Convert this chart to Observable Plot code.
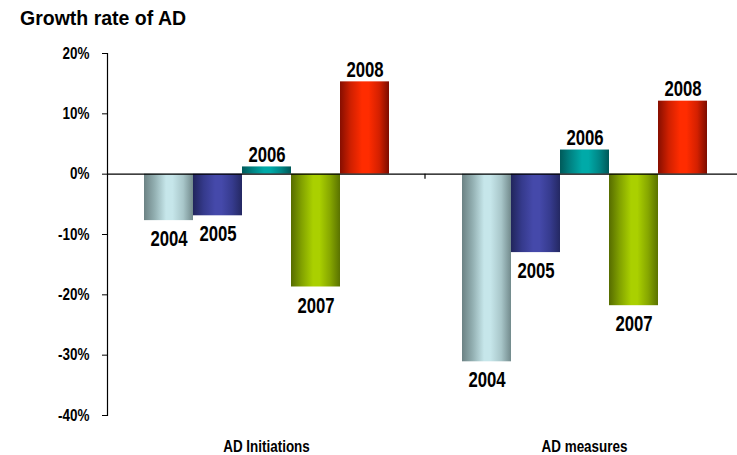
<!DOCTYPE html>
<html>
<head>
<meta charset="utf-8">
<script src="https://cdn.jsdelivr.net/npm/d3@7"></script>
<script src="https://cdn.jsdelivr.net/npm/@observablehq/plot@0.6"></script>
<style>
  html, body { margin: 0; padding: 0; background: #fff; }
  #title { font: bold 19.5px "Liberation Sans", Arial, sans-serif; color: #000; padding: 9px 0 0 20px; height: 29px; line-height: 19px; box-sizing: content-box; }
  svg text { font-family: "Liberation Sans", Arial, sans-serif; font-weight: bold; }
</style>
</head>
<body>
<div id="title">Growth rate of AD</div>
<div id="chart"></div>
<script>
const categories = ["AD Initiations", "AD measures"];
const years = ["2004", "2005", "2006", "2007", "2008"];
const initiations = [-7.7, -6.9, 1.2, -18.7, 15.3];
const measures = [-31.1, -13.0, 4.0, -21.8, 12.1];
const yTicks = [-40, -30, -20, -10, 0, 10, 20];

// cylinder gradient colours per year: [edge, mid, light, mid, edge]
const yearColors = {
  "2004": ["#6c8284", "#93b0b2", "#c6e6ea", "#a8c6c9", "#728a8c"],
  "2005": ["#21255c", "#353a8c", "#4549aa", "#363b8e", "#242862"],
  "2006": ["#005a5a", "#008484", "#00aaa8", "#008686", "#005858"],
  "2007": ["#566c00", "#82a200", "#aad000", "#86a600", "#5a7200"],
  "2008": ["#860e00", "#d02000", "#ff2c00", "#d42000", "#7c0c00"]
};

const seriesByCategory = [initiations, measures];
const rows = categories.flatMap((c, i) =>
  years.map((y, j) => ({category: c, year: y, value: seriesByCategory[i][j]}))
);

const fontFam = '"Liberation Sans", Arial, sans-serif';

const chart = Plot.plot({
  width: 737,
  height: 417,
  marginTop: 15,
  marginBottom: 40,
  marginLeft: 107,
  marginRight: -6,
  style: {fontFamily: fontFam, fontWeight: "bold", color: "#000", background: "#fff"},
  fx: {domain: categories, paddingInner: 0, paddingOuter: 0, label: null},
  x: {domain: years, paddingInner: 0, paddingOuter: 0.73, axis: null},
  y: {domain: [-40, 20], label: null},
  marks: [
    ...years.map(yr => Plot.barY(rows.filter(r => r.year === yr), {
      fx: "category", x: "year", y: "value", fill: `url(#grad-${yr})`
    })),
    Plot.text(rows.filter(r => r.value < 0), {
      fx: "category", x: "year", y: "value", text: "year",
      lineAnchor: "top", dy: 10, fontSize: 22, fontWeight: "bold", fill: "#000"
    }),
    Plot.text(rows.filter(r => r.value >= 0), {
      fx: "category", x: "year", y: "value", text: "year",
      lineAnchor: "bottom", dy: -5, fontSize: 22, fontWeight: "bold", fill: "#000"
    }),
    Plot.ruleY([0], {stroke: "#000", strokeWidth: 1.3}),
    Plot.frame({anchor: "left", facet: "super", stroke: "#000", strokeWidth: 1.2}),
    Plot.axisY({ticks: yTicks, tickFormat: d => `${d}%`, tickSize: 5, tickPadding: 13, fontSize: 16, fontWeight: "bold", label: null}),
    Plot.axisFx({anchor: "bottom", tickSize: 0, tickPadding: 24, fontSize: 17, fontWeight: "bold", label: null}),
    Plot.frame({
      facet: "super",
      render: (index, scales, values, dims, context) => {
        const g = d3.create("svg:g");
        const x = scales.fx(categories[1]);
        const y0 = scales.y(0);
        g.append("line").attr("x1", x).attr("x2", x).attr("y1", y0).attr("y2", y0 + 5)
          .attr("stroke", "#000").attr("stroke-width", 1.2);
        return g.node();
      }
    })
  ]
});

// gradient definitions for cylinder-like bars
const defs = d3.select(chart).insert("defs", ":first-child");
for (const yr of years) {
  const c = yearColors[yr];
  const lg = defs.append("linearGradient").attr("id", `grad-${yr}`)
    .attr("x1", 0).attr("x2", 1).attr("y1", 0).attr("y2", 0);
  [[0, c[0]], [0.22, c[1]], [0.45, c[2]], [0.58, c[2]], [0.8, c[3]], [1, c[4]]]
    .forEach(([o, col]) => lg.append("stop").attr("offset", o).attr("stop-color", col));
}

document.getElementById("chart").appendChild(chart);

// emulate a narrow bold face by horizontally condensing glyphs
const squeeze = {"22px": 0.76, "16px": 0.84, "17px": 0.79};
chart.querySelectorAll("text").forEach(t => {
  const fs = getComputedStyle(t).fontSize;
  const f = squeeze[fs];
  if (!f) return;
  const len = t.getComputedTextLength();
  if (len > 0) {
    t.setAttribute("textLength", (len * f).toFixed(2));
    t.setAttribute("lengthAdjust", "spacingAndGlyphs");
  }
});
</script>
</body>
</html>
